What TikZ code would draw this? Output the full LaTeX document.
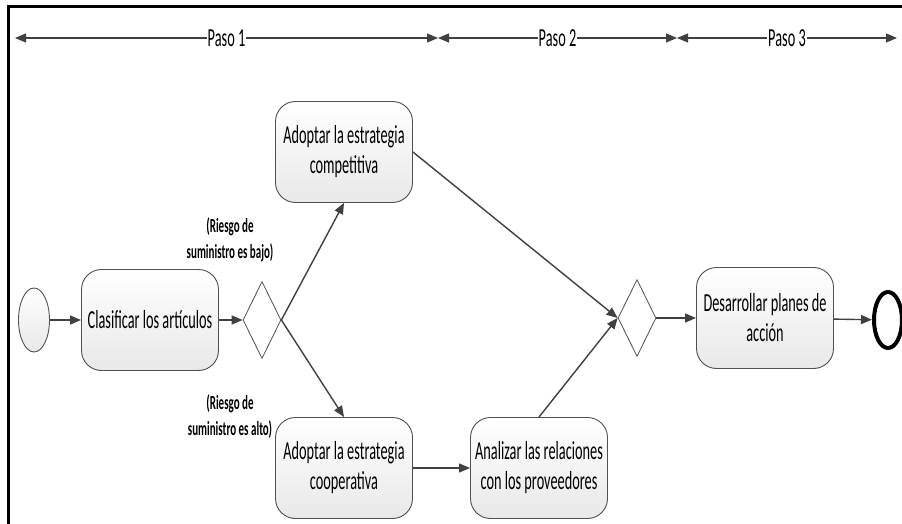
\documentclass[tikz,border=0pt]{standalone}
\usepackage{fontspec}
\setmainfont{Carlito}[FakeStretch=0.55]
\usetikzlibrary{shapes.geometric,arrows.meta}

\definecolor{ink}{HTML}{404040}
\definecolor{edge}{HTML}{505050}

\tikzset{
  flow/.style={draw=ink, line width=1.4pt, -{Triangle[length=11pt,width=9pt]}},
  hdr/.style={draw=ink, line width=1.2pt, {Triangle[length=11pt,width=9pt]}-{Triangle[length=11pt,width=9pt]}},
  hdrlabel/.style={fill=white, inner sep=1pt, font=\fontsize{26}{30}\selectfont},
  task/.style={draw=edge, line width=0.9pt, rounded corners=20pt,
    top color=white, bottom color=black!9,
    minimum width=137pt, minimum height=101pt, align=center,
    font=\fontsize{26}{30}\selectfont},
  gate/.style={diamond, draw=edge, line width=0.8pt, fill=white,
    minimum width=38pt, minimum height=77pt, inner sep=0pt},
  cond/.style={align=center, inner sep=0pt, font=\bfseries\fontsize{20}{26}\selectfont}
}

\begin{document}
\begin{tikzpicture}[x=1pt,y=-1pt]
  \useasboundingbox (0,0) rectangle (902,524);
  \fill[white] (0,0) rectangle (902,524);

  % frame
  \draw[line width=3pt, black] (8.5,524) -- (8.5,6.5) -- (902,6.5);

  % phase headers
  \coordinate (h0) at (15,38);
  \coordinate (h1) at (438,38);
  \coordinate (h2) at (677,38);
  \coordinate (h3) at (897,38);
  \draw[hdr] (h0) -- node[hdrlabel]{Paso 1} (h1);
  \draw[hdr] (h1) -- node[hdrlabel]{Paso 2} (h2);
  \draw[hdr] (h2) -- node[hdrlabel]{Paso 3} (h3);

  % activities
  \node[ellipse, draw=edge, line width=0.9pt, top color=white, bottom color=black!9,
        minimum width=31pt, minimum height=64pt, inner sep=0pt] (start) at (34,320) {};
  \node[task] (clas) at (150,320) {Clasificar los artículos};
  \node[gate] (g1) at (262,320) {};
  \node[task] (comp) at (344,152) {Adoptar la estrategia\\competitiva};
  \node[task] (coop) at (344,468) {Adoptar la estrategia\\cooperativa};
  \node[task] (anal) at (539,468) {Analizar las relaciones\\con los proveedores};
  \node[gate] (g2) at (637,318) {};
  \node[task] (plan) at (765,318) {Desarrollar planes de\\acción};
  \node[ellipse, draw=black, line width=4pt, fill=white,
        minimum width=28pt, minimum height=56pt, inner sep=0pt] (end) at (888,320) {};

  % conditions
  \node[cond] at (230,240) {(Riesgo de\\suministro es bajo)};
  \node[cond] at (230,417) {(Riesgo de\\suministro es alto)};

  % flows
  \draw[flow] (start) -- (clas);
  \draw[flow] (clas) -- (g1);
  \draw[flow] (g1.east) -- (comp.south);
  \draw[flow] (g1.east) -- (coop.north);
  \draw[flow] (comp.east) -- (g2.west);
  \draw[flow] (coop) -- (anal);
  \draw[flow] (anal.north) -- (g2.west);
  \draw[flow] (g2) -- (plan);
  \draw[flow] (plan) -- (end);
\end{tikzpicture}
\end{document}
